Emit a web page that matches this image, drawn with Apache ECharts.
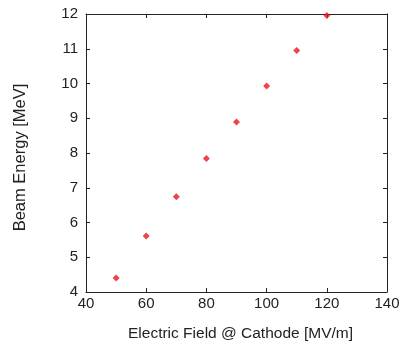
<!DOCTYPE html>
<html><head><meta charset="utf-8">
<script src="https://cdn.jsdelivr.net/npm/echarts@6/dist/echarts.min.js"></script>
<style>html,body{margin:0;padding:0;background:#fff}#c{width:400px;height:343px}</style>
</head><body><div id="c"></div>
<script>
const fieldValues = [50, 60, 70, 80, 90, 100, 110, 120];
const beamEnergy = [4.40, 5.61, 6.74, 7.84, 8.89, 9.93, 10.95, 11.96];
const xTitle = 'Electric Field @ Cathode [MV/m]';
const yTitle = 'Beam Energy [MeV]';

const font = 'Liberation Sans, Arial, Helvetica, sans-serif';
const lineStyle = {color: '#222', width: 1};
const chart = echarts.init(document.getElementById('c'));
const baseX = {type: 'value', min: 40, max: 140, interval: 20,
  axisLine: {show: true, onZero: false, lineStyle},
  axisTick: {show: true, inside: true, length: 4, lineStyle},
  splitLine: {show: false}};
const baseY = {type: 'value', min: 4, max: 12, interval: 1,
  axisLine: {show: true, onZero: false, lineStyle},
  axisTick: {show: true, inside: true, length: 4, lineStyle},
  splitLine: {show: false}};
chart.setOption({
  animation: false,
  grid: {left: 86, right: 13, top: 14, bottom: 51, containLabel: false, outerBoundsMode: 'none'},
  xAxis: [
    Object.assign({}, baseX, {position: 'bottom', name: xTitle, nameLocation: 'middle', nameGap: 34,
      nameTextStyle: {fontFamily: font, fontSize: 15.5, color: '#222', padding: [0, 0, 0, 8]},
      axisLabel: {fontFamily: font, fontSize: 15, color: '#222', margin: 4}}),
    Object.assign({}, baseX, {position: 'top', axisLabel: {show: false}})
  ],
  yAxis: [
    Object.assign({}, baseY, {position: 'left', name: yTitle, nameLocation: 'middle', nameGap: 57,
      nameTextStyle: {fontFamily: font, fontSize: 16.5, color: '#222', padding: [0, 9, 0, 0]},
      axisLabel: {fontFamily: font, fontSize: 15, color: '#222', margin: 8}}),
    Object.assign({}, baseY, {position: 'right', axisLabel: {show: false}})
  ],
  series: [{
    type: 'scatter', xAxisIndex: 0, yAxisIndex: 0,
    data: fieldValues.map((x, i) => [x, beamEnergy[i]]),
    symbol: 'diamond', symbolSize: 7,
    itemStyle: {color: '#e8141f'}
  }]
});
</script></body></html>
